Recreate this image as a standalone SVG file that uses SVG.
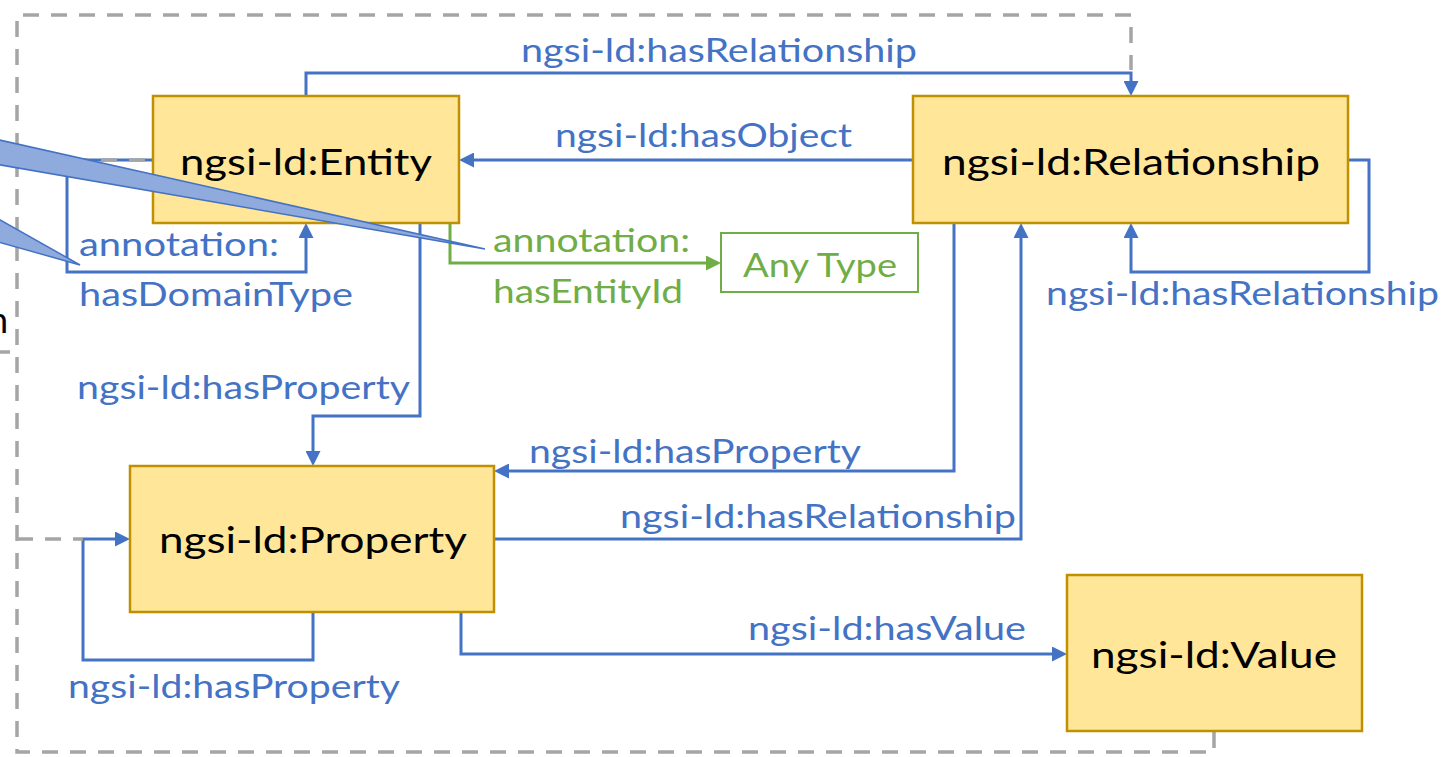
<svg xmlns="http://www.w3.org/2000/svg" width="1447" height="757" viewBox="0 0 1447 757">
  <style>
    .node rect { fill: #FFE699; stroke: #BF9000; stroke-width: 2.5; }
    .node text { font-family: Lato, "Open Sans", "Liberation Sans", sans-serif; font-size: 37px; fill: #000; text-anchor: middle; }
    .lbl { font-family: Lato, "Open Sans", "Liberation Sans", sans-serif; font-size: 32px; fill: #4472C4; }
    .lbl.green { fill: #70AD47; }
    .edge { fill: none; stroke: #4472C4; stroke-width: 3; }
    .edge.green { stroke: #70AD47; }
    .dash { fill: none; stroke: #A5A5A5; stroke-width: 3.5; stroke-dasharray: 16 12; }
    .callout { fill: #8FAADC; stroke: #4472C4; stroke-width: 1.5; stroke-linejoin: miter; }
  </style>
  <defs>
    <marker id="arrowBlue" viewBox="0 0 10 10" refX="4" refY="5" markerWidth="15" markerHeight="15" markerUnits="userSpaceOnUse" orient="auto">
      <path d="M0,0 L10,5 L0,10 z" fill="#4472C4"/>
    </marker>
    <marker id="arrowGreen" viewBox="0 0 10 10" refX="4" refY="5" markerWidth="15" markerHeight="15" markerUnits="userSpaceOnUse" orient="auto">
      <path d="M0,0 L10,5 L0,10 z" fill="#70AD47"/>
    </marker>
  </defs>

  <rect width="1447" height="757" fill="#FFFFFF"/>

  <!-- dashed grouping outline -->
  <g id="frame">
    <path class="dash" d="M1214,732 V752 H17 V15 H1131 V70"/>
    <path d="M-2,352 H10" stroke="#A5A5A5" stroke-width="3.5"/>
    <text x="8" y="333" font-family="Lato, 'Open Sans', 'Liberation Sans', sans-serif" font-size="36" text-anchor="end" fill="#000">n</text>
  </g>

  <g id="connectors">
    <!-- Entity -> Relationship : hasRelationship -->
    <path class="edge" d="M306,96 V73 H1131 V87" marker-end="url(#arrowBlue)"/>
    <!-- Relationship -> Entity : hasObject -->
    <path class="edge" d="M913,160 H468" marker-end="url(#arrowBlue)"/>
    <!-- Entity self loop : hasDomainType -->
    <path class="edge" d="M153,160 H67 V272 H306 V232" marker-end="url(#arrowBlue)"/>
    <!-- Entity -> Property : hasProperty -->
    <path class="edge" d="M420,223 V416 H313 V457" marker-end="url(#arrowBlue)"/>
    <!-- Relationship -> Property : hasProperty -->
    <path class="edge" d="M954,223 V471 H503" marker-end="url(#arrowBlue)"/>
    <!-- Property -> Relationship : hasRelationship -->
    <path class="edge" d="M494,539 H1021 V232" marker-end="url(#arrowBlue)"/>
    <!-- Relationship self loop : hasRelationship -->
    <path class="edge" d="M1348,160 H1369 V272 H1131 V232" marker-end="url(#arrowBlue)"/>
    <!-- Property self loop : hasProperty -->
    <path class="edge" d="M313,612 V660 H83 V539 H121" marker-end="url(#arrowBlue)"/>
    <!-- Property -> Value : hasValue -->
    <path class="edge" d="M461,612 V654 H1058" marker-end="url(#arrowBlue)"/>
    <!-- Entity -> Any Type : hasEntityId -->
    <path class="edge green" d="M450,223 V263 H712" marker-end="url(#arrowGreen)"/>
    <!-- dashed links entering from the left -->
    <path class="dash" d="M17,160 H153"/>
    <path class="dash" d="M17,539 H83"/>
  </g>

  <g id="entity" class="node">
    <rect x="153" y="96" width="306" height="127"/>
    <text x="306" y="175" textLength="252" lengthAdjust="spacingAndGlyphs">ngsi-ld:Entity</text>
  </g>
  <g id="relationship" class="node">
    <rect x="913" y="96" width="435" height="127"/>
    <text x="1131" y="175" textLength="378" lengthAdjust="spacingAndGlyphs">ngsi-ld:Relationship</text>
  </g>
  <g id="property" class="node">
    <rect x="130" y="466" width="364" height="146"/>
    <text x="313" y="553" textLength="308" lengthAdjust="spacingAndGlyphs">ngsi-ld:Property</text>
  </g>
  <g id="value" class="node">
    <rect x="1067" y="575" width="295" height="156"/>
    <text x="1214" y="668" textLength="246" lengthAdjust="spacingAndGlyphs">ngsi-ld:Value</text>
  </g>
  <g id="anytype">
    <rect x="721" y="233" width="197" height="59" fill="#FFFFFF" stroke="#70AD47" stroke-width="2"/>
    <text class="lbl green" x="743" y="277" textLength="154" lengthAdjust="spacingAndGlyphs">Any Type</text>
  </g>

  <g id="labels">
    <text class="lbl" x="521" y="62" textLength="396" lengthAdjust="spacingAndGlyphs">ngsi-ld:hasRelationship</text>
    <text class="lbl" x="555" y="147" textLength="297" lengthAdjust="spacingAndGlyphs">ngsi-ld:hasObject</text>
    <text class="lbl" x="79" y="256" textLength="200" lengthAdjust="spacingAndGlyphs">annotation:</text>
    <text class="lbl" x="79" y="306" textLength="274" lengthAdjust="spacingAndGlyphs">hasDomainType</text>
    <text class="lbl green" x="493" y="252" textLength="197" lengthAdjust="spacingAndGlyphs">annotation:</text>
    <text class="lbl green" x="493" y="303" textLength="190" lengthAdjust="spacingAndGlyphs">hasEntityId</text>
    <text class="lbl" x="1046" y="305" textLength="393" lengthAdjust="spacingAndGlyphs">ngsi-ld:hasRelationship</text>
    <text class="lbl" x="77" y="399" textLength="333" lengthAdjust="spacingAndGlyphs">ngsi-ld:hasProperty</text>
    <text class="lbl" x="529" y="463" textLength="332" lengthAdjust="spacingAndGlyphs">ngsi-ld:hasProperty</text>
    <text class="lbl" x="620" y="528" textLength="396" lengthAdjust="spacingAndGlyphs">ngsi-ld:hasRelationship</text>
    <text class="lbl" x="748" y="640" textLength="278" lengthAdjust="spacingAndGlyphs">ngsi-ld:hasValue</text>
    <text class="lbl" x="68" y="698" textLength="332" lengthAdjust="spacingAndGlyphs">ngsi-ld:hasProperty</text>
  </g>

  <!-- callout pointers coming in from the left -->
  <g id="callouts">
    <polygon class="callout" points="-5,139 485,249 -5,164"/>
    <polygon class="callout" points="-5,217 80,265 -5,241"/>
  </g>
</svg>
